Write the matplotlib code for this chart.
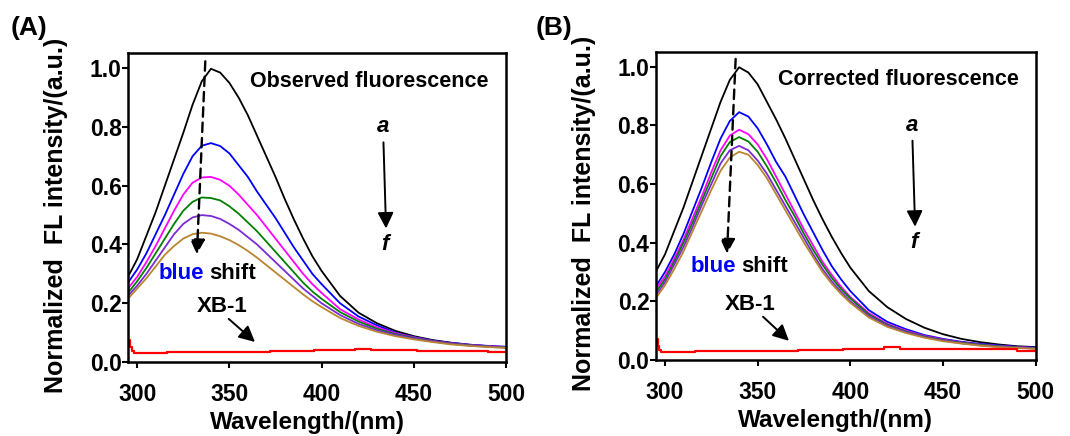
#!/usr/bin/env python3
import matplotlib

matplotlib.use("Agg")
import matplotlib.pyplot as plt

plt.rcParams["font.family"] = ["Liberation Sans", "DejaVu Sans"]
plt.rcParams["font.weight"] = "bold"

# wavelength grid the spectra were read at (nm)
wl = [295, 300, 305, 310, 315, 320, 325, 330, 335, 340, 345, 350, 355, 360,
      365, 370, 375, 380, 385, 390, 395, 400, 410, 420, 430, 440, 450, 460,
      470, 480, 490, 500]

# (A) observed fluorescence, curves a..f
obs_a = [0.29, 0.35, 0.43, 0.51, 0.60, 0.69, 0.78, 0.875, 0.955, 0.998, 0.985, 0.95,
         0.90, 0.84, 0.77, 0.70, 0.63, 0.555, 0.485, 0.42, 0.36, 0.31, 0.225, 0.168,
         0.132, 0.106, 0.088, 0.075, 0.066, 0.059, 0.054, 0.05]
obs_b = [0.27, 0.315, 0.37, 0.435, 0.50, 0.57, 0.64, 0.70, 0.736, 0.745, 0.735, 0.71,
         0.67, 0.63, 0.58, 0.535, 0.49, 0.44, 0.39, 0.345, 0.30, 0.265, 0.20, 0.155,
         0.125, 0.10, 0.085, 0.073, 0.065, 0.059, 0.055, 0.052]
obs_c = [0.25, 0.29, 0.34, 0.395, 0.455, 0.515, 0.57, 0.61, 0.628, 0.63, 0.62, 0.60,
         0.57, 0.535, 0.50, 0.46, 0.42, 0.38, 0.34, 0.30, 0.265, 0.235, 0.18, 0.145,
         0.118, 0.098, 0.084, 0.072, 0.064, 0.058, 0.054, 0.051]
obs_d = [0.235, 0.275, 0.32, 0.37, 0.42, 0.47, 0.515, 0.545, 0.56, 0.558, 0.55, 0.53,
         0.505, 0.475, 0.445, 0.41, 0.375, 0.34, 0.305, 0.27, 0.24, 0.215, 0.17, 0.138,
         0.113, 0.095, 0.082, 0.071, 0.063, 0.057, 0.053, 0.05]
obs_e = [0.225, 0.26, 0.30, 0.345, 0.39, 0.435, 0.47, 0.492, 0.50, 0.497, 0.487, 0.47,
         0.45, 0.425, 0.40, 0.37, 0.34, 0.31, 0.28, 0.25, 0.225, 0.20, 0.16, 0.13,
         0.108, 0.092, 0.08, 0.07, 0.062, 0.056, 0.052, 0.049]
obs_f = [0.215, 0.25, 0.285, 0.325, 0.365, 0.395, 0.42, 0.435, 0.44, 0.437, 0.428, 0.415,
         0.398, 0.378, 0.355, 0.33, 0.305, 0.28, 0.255, 0.23, 0.207, 0.187, 0.15, 0.123,
         0.103, 0.088, 0.077, 0.068, 0.06, 0.055, 0.051, 0.048]

# (B) corrected fluorescence, curves a..f
cor_a = [0.30, 0.36, 0.44, 0.52, 0.61, 0.70, 0.79, 0.88, 0.955, 0.998, 0.98, 0.94,
         0.88, 0.82, 0.755, 0.685, 0.615, 0.545, 0.48, 0.42, 0.365, 0.315, 0.235, 0.18,
         0.14, 0.11, 0.088, 0.072, 0.061, 0.053, 0.047, 0.044]
cor_b = [0.25, 0.30, 0.36, 0.43, 0.51, 0.59, 0.675, 0.755, 0.815, 0.845, 0.83, 0.79,
         0.735, 0.675, 0.625, 0.56, 0.495, 0.435, 0.375, 0.32, 0.275, 0.235, 0.17, 0.13,
         0.105, 0.085, 0.072, 0.062, 0.055, 0.05, 0.045, 0.042]
cor_c = [0.24, 0.285, 0.345, 0.41, 0.485, 0.56, 0.64, 0.715, 0.765, 0.785, 0.77, 0.735,
         0.685, 0.625, 0.565, 0.505, 0.445, 0.39, 0.335, 0.29, 0.25, 0.215, 0.16, 0.123,
         0.10, 0.082, 0.07, 0.06, 0.053, 0.048, 0.044, 0.041]
cor_d = [0.23, 0.275, 0.335, 0.40, 0.47, 0.545, 0.62, 0.695, 0.743, 0.76, 0.745, 0.71,
         0.66, 0.605, 0.545, 0.49, 0.43, 0.375, 0.325, 0.28, 0.242, 0.21, 0.155, 0.12,
         0.097, 0.08, 0.068, 0.059, 0.052, 0.047, 0.043, 0.04]
cor_e = [0.22, 0.265, 0.325, 0.385, 0.455, 0.53, 0.60, 0.67, 0.715, 0.73, 0.715, 0.68,
         0.635, 0.58, 0.525, 0.47, 0.415, 0.36, 0.31, 0.268, 0.232, 0.20, 0.15, 0.117,
         0.095, 0.078, 0.066, 0.057, 0.05, 0.045, 0.042, 0.039]
cor_f = [0.21, 0.255, 0.31, 0.37, 0.44, 0.51, 0.58, 0.645, 0.69, 0.71, 0.70, 0.665,
         0.62, 0.565, 0.51, 0.455, 0.40, 0.35, 0.30, 0.26, 0.225, 0.195, 0.145, 0.113,
         0.092, 0.076, 0.064, 0.056, 0.049, 0.044, 0.041, 0.038]

# XB-1 alone (stepped trace)
xb_wl = [295, 296, 297, 298, 316, 372, 396, 418, 427, 452, 490, 500]
xb_obs = [0.075, 0.05, 0.036, 0.03, 0.033, 0.036, 0.04, 0.045, 0.041, 0.038, 0.034, 0.034]
xb_cor = [0.07, 0.048, 0.034, 0.028, 0.031, 0.034, 0.038, 0.043, 0.039, 0.036, 0.032, 0.032]

curve_colors = ["black", "#0000FF", "#FF00FF", "#008000", "#7B2BD6", "#B8862E"]
xticks = [300, 350, 400, 450, 500]
yticks = [0.0, 0.2, 0.4, 0.6, 0.8, 1.0]


def draw_panel(ax, series, xb, title, letter, ann):
    for y, c in zip(series, curve_colors):
        ax.plot(wl, y, color=c, lw=1.3, solid_joinstyle="round")
    ax.plot(xb_wl, xb, color="#FF0000", lw=1.6, drawstyle="steps-post")

    ax.set_xlim(295, 500)
    ax.set_ylim(0, 1.05)
    ax.set_xticks(xticks)
    ax.set_yticks(yticks)
    ax.set_yticklabels([f"{v:.1f}" for v in yticks])
    ax.tick_params(direction="out", length=4, width=1.5, labelsize=16.5)
    ax.tick_params(axis="y", pad=0.5)
    ax.tick_params(axis="x", pad=11)
    for s in ax.spines.values():
        s.set_linewidth(1.8)

    ax.set_xlabel("Wavelength/(nm)", fontsize=17.5, fontweight="bold")
    ax.set_ylabel("Normalized  FL intensity/(a.u.)", fontsize=18, fontweight="bold")
    ax.xaxis.set_label_coords(0.474, -0.16)
    ax.yaxis.set_label_coords(-0.158, 0.475)

    ax.text(361, 0.955, title, fontsize=15.5, fontweight="bold", va="center")

    # dashed blue-shift arrow
    ax.annotate("", xy=ann["dash_end"], xytext=ann["dash_start"],
                arrowprops=dict(arrowstyle="-|>", lw=1.7, ls=(0, (4, 2.5)),
                                color="black", mutation_scale=22))
    ax.text(ann["blue_x"], ann["shift_y"], "blue", color="#0000FF",
            fontsize=16, fontweight="bold", va="center")
    ax.text(ann["shift_x"], ann["shift_y"], "shift", color="black",
            fontsize=16, fontweight="bold", va="center")

    # a -> f arrow
    ax.text(433.5, 0.80, "a", fontsize=16, fontweight="bold", style="italic",
            ha="center", va="center")
    ax.text(434.5, 0.40, "f", fontsize=16, fontweight="bold", style="italic",
            ha="center", va="center")
    ax.annotate("", xy=(435, 0.445), xytext=(433.5, 0.757),
                arrowprops=dict(arrowstyle="-|>", lw=1.4, color="black",
                                mutation_scale=24))

    # XB-1 label
    ax.text(ann["xb_x"], 0.19, "XB-1", fontsize=16, fontweight="bold",
            ha="center", va="center")
    ax.annotate("", xy=ann["xb_end"], xytext=ann["xb_start"],
                arrowprops=dict(arrowstyle="-|>", lw=1.4, color="black",
                                mutation_scale=24))

    ax.figure.text(ann["letter_x"], 0.935, letter, fontsize=19,
                   fontweight="bold", ha="center", va="center")


def main() -> None:
    fig = plt.figure(figsize=(10.7, 4.36), dpi=100)
    ax_a = fig.add_axes([0.1196, 0.1697, 0.3533, 0.7076])
    ax_b = fig.add_axes([0.6128, 0.1743, 0.3551, 0.7064])

    draw_panel(ax_a, [obs_a, obs_b, obs_c, obs_d, obs_e, obs_f], xb_obs,
               "Observed fluorescence", "(A)",
               dict(dash_start=(337, 1.033), dash_end=(332.3, 0.357),
                    blue_x=311.5, shift_x=339, shift_y=0.30,
                    xb_x=346, xb_start=(348.5, 0.153), xb_end=(365, 0.062),
                    letter_x=0.027))
    draw_panel(ax_b, [cor_a, cor_b, cor_c, cor_d, cor_e, cor_f], xb_cor,
               "Corrected fluorescence", "(B)",
               dict(dash_start=(338.2, 1.036), dash_end=(333.4, 0.353),
                    blue_x=313.9, shift_x=341, shift_y=0.319,
                    xb_x=346, xb_start=(351.8, 0.154), xb_end=(368, 0.059),
                    letter_x=0.518))

    fig.savefig("out.png", dpi=100)


if __name__ == "__main__":
    main()
